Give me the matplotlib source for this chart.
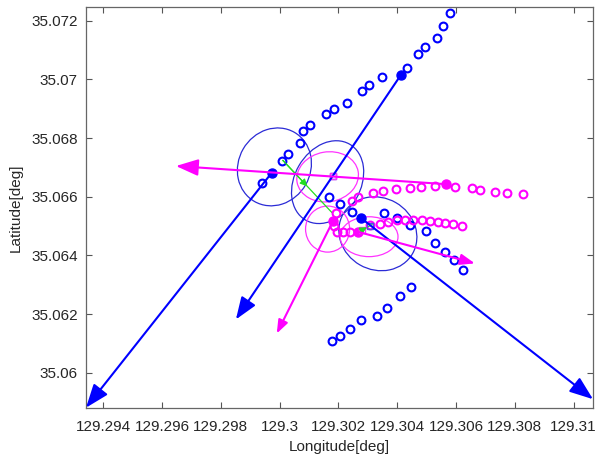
import numpy as np
import matplotlib.pyplot as plt
from matplotlib.patches import Ellipse
from matplotlib.ticker import FuncFormatter

plt.rcParams['font.family'] = ['Liberation Sans', 'DejaVu Sans']

# open-circle tracks (blue)
trackA_lon = [129.29939, 129.30007, 129.30029, 129.30069, 129.30078, 129.30103, 129.30158,
              129.30186, 129.30228, 129.30279, 129.30305, 129.30348, 129.30432, 129.30471,
              129.30493, 129.30536, 129.30557, 129.30579]
trackA_lat = [35.06648, 35.06723, 35.06745, 35.06782, 35.06824, 35.06845, 35.06882,
              35.06898, 35.06921, 35.06961, 35.06980, 35.07009, 35.07040, 35.07086,
              35.07111, 35.07143, 35.07182, 35.07225]
trackB_lon = [129.30169, 129.30205, 129.30245, 129.30356, 129.30399, 129.30443, 129.30499,
              129.30527, 129.30561, 129.30593, 129.30625]
trackB_lat = [35.06598, 35.06575, 35.06549, 35.06546, 35.06527, 35.06504, 35.06482,
              35.06442, 35.06413, 35.06383, 35.06352]
trackC_lon = [129.30177, 129.30205, 129.30239, 129.30277, 129.30332, 129.30366, 129.30409, 129.30446]
trackC_lat = [35.06108, 35.06126, 35.06151, 35.06180, 35.06193, 35.06222, 35.06262, 35.06293]

# open-circle tracks (magenta)
trackM1_lon = [129.30245, 129.30267, 129.30318, 129.30352, 129.30397, 129.30442, 129.30480,
               129.30527, 129.30595, 129.30654, 129.30680, 129.30732, 129.30772, 129.30829]
trackM1_lat = [35.06587, 35.06600, 35.06612, 35.06619, 35.06628, 35.06631, 35.06635,
               35.06637, 35.06634, 35.06631, 35.06623, 35.06617, 35.06614, 35.06609]
trackM2_lon = [129.30192, 129.30185, 129.30195, 129.30216, 129.30239, 129.30307, 129.30341,
               129.30369, 129.30398, 129.30426, 129.30454, 129.30483, 129.30511, 129.30539,
               129.30562, 129.30590, 129.30619]
trackM2_lat = [35.06546, 35.06500, 35.06480, 35.06481, 35.06481, 35.06504, 35.06509,
               35.06515, 35.06521, 35.06521, 35.06521, 35.06521, 35.06519, 35.06515,
               35.06511, 35.06507, 35.06500]

# current positions and velocity arrow tips
blue_pos_lon = [129.29973, 129.30412, 129.30276]
blue_pos_lat = [35.06682, 35.07015, 35.06528]
blue_tip_lon = [129.29341, 129.29851, 129.31066]
blue_tip_lat = [35.05881, 35.06182, 35.05910]
blue_head = [18, 17, 18]

mag_pos_lon = [129.30567, 129.30182, 129.30265]
mag_pos_lat = [35.06643, 35.06519, 35.06481]
mag_tip_lon = [129.29647, 129.29990, 129.30664]
mag_tip_lat = [35.06705, 35.06134, 35.06373]
mag_head = [17, 10, 11]

# predicted points (squares)
blue_sq_lon = [129.30182, 129.30307]
blue_sq_lat = [35.06671, 35.06500]
mag_sq_lon = [129.30182, 129.30280]
mag_sq_lat = [35.06671, 35.06487]

# green connecting lines: start, end
green_lon = [(129.30011, 129.30177), (129.30280, 129.30314)]
green_lat = [(35.06724, 35.06547), (35.06487, 35.06505)]

# uncertainty ellipses: centre lon, centre lat, width, height, angle
blue_ell = [(129.29982, 35.06702, 0.00272, 0.00245, 60),
            (129.30163, 35.06650, 0.00299, 0.00225, 60),
            (129.30334, 35.06474, 0.00272, 0.00245, -30)]
mag_ell = [(129.30163, 35.06668, 0.00211, 0.00170, 10),
           (129.30163, 35.06490, 0.00150, 0.00157, 0),
           (129.30304, 35.06464, 0.00197, 0.00136, 0)]

fig = plt.figure(figsize=(5.96, 4.62), dpi=100)
ax = fig.add_axes([0.1443, 0.1175, 0.8507, 0.8673])

for cx, cy, w, h, a in blue_ell:
    ax.add_patch(Ellipse((cx, cy), w, h, angle=a, fill=False, ec='#2b2bd6', lw=0.9))
for cx, cy, w, h, a in mag_ell:
    ax.add_patch(Ellipse((cx, cy), w, h, angle=a, fill=False, ec='#ff33ff', lw=0.9))

for (x0, x1), (y0, y1) in zip(green_lon, green_lat):
    ax.plot([x0, x1], [y0, y1], color='#22dd22', lw=0.9)
    ax.annotate('', xy=((x0 + x1) / 2, (y0 + y1) / 2), xytext=(x0, y0),
                arrowprops=dict(arrowstyle='-|>,head_length=0.6,head_width=0.3',
                                color='#22dd22', lw=0.9, shrinkA=0, shrinkB=0,
                                mutation_scale=7))

for x0, y0, x1, y1, hs in zip(blue_pos_lon, blue_pos_lat, blue_tip_lon, blue_tip_lat, blue_head):
    ax.annotate('', xy=(x1, y1), xytext=(x0, y0), annotation_clip=False,
                arrowprops=dict(arrowstyle='-|>,head_length=0.8,head_width=0.3',
                                color='#0000ff', lw=1.5, shrinkA=0, shrinkB=0,
                                mutation_scale=hs))
for x0, y0, x1, y1, hs in zip(mag_pos_lon, mag_pos_lat, mag_tip_lon, mag_tip_lat, mag_head):
    ax.annotate('', xy=(x1, y1), xytext=(x0, y0), annotation_clip=False,
                arrowprops=dict(arrowstyle='-|>,head_length=0.8,head_width=0.3',
                                color='#ff00ff', lw=1.5, shrinkA=0, shrinkB=0,
                                mutation_scale=hs))

circ = dict(ls='none', marker='o', ms=5.6, mfc='none', mew=1.5)
ax.plot(trackA_lon, trackA_lat, color='#0000ff', **circ)
ax.plot(trackB_lon, trackB_lat, color='#0000ff', **circ)
ax.plot(trackC_lon, trackC_lat, color='#0000ff', **circ)
ax.plot(trackM1_lon, trackM1_lat, color='#ff00ff', **circ)
ax.plot(trackM2_lon, trackM2_lat, color='#ff00ff', **circ)

ax.plot(blue_pos_lon, blue_pos_lat, ls='none', marker='o', ms=6.5, color='#0000ff')
ax.plot(mag_pos_lon, mag_pos_lat, ls='none', marker='o', ms=6.5, color='#ff00ff')
ax.plot(blue_sq_lon, blue_sq_lat, ls='none', marker='s', ms=5, mfc='none', mec='#5050e0', mew=1.0)
ax.plot(mag_sq_lon, mag_sq_lat, ls='none', marker='s', ms=4, mfc='none', mec='#ff33ff', mew=1.0)

ax.set_xlim(129.29341, 129.31066)
ax.set_ylim(35.05881, 35.07247)
ax.set_xticks(np.arange(129.294, 129.3101, 0.002))
ax.set_yticks(np.arange(35.06, 35.0721, 0.002))
fmt = FuncFormatter(lambda v, p: f'{v:.6g}')
ax.xaxis.set_major_formatter(fmt)
ax.yaxis.set_major_formatter(fmt)
ax.tick_params(direction='in', length=4, width=0.8, colors='#555555', labelcolor='#262626',
               labelsize=11, top=True, right=True)
ax.tick_params(axis='x', pad=9)
ax.tick_params(axis='y', pad=6)
for s in ax.spines.values():
    s.set_color('#666666')
    s.set_linewidth(0.9)

ax.set_xlabel('Longitude[deg]', fontsize=11, color='#262626', labelpad=4)
ax.set_ylabel('Latitude[deg]', fontsize=11, color='#262626', labelpad=6)

fig.savefig('out.png', dpi=100)
